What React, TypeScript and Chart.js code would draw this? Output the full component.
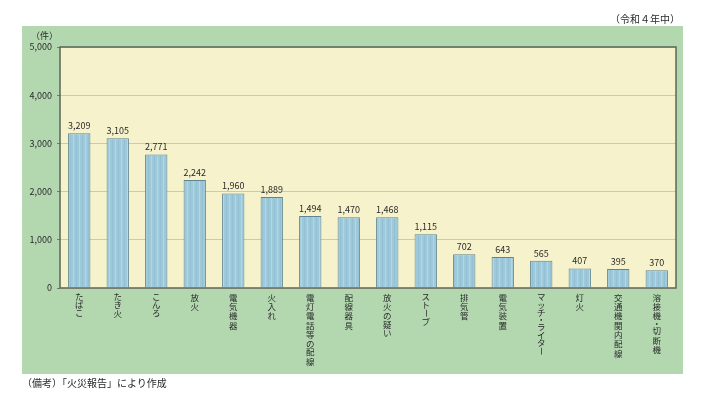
import React, { useEffect, useRef } from "react";
import { Chart, registerables } from "chart.js";

Chart.register(...registerables);

const categories = [
  "たばこ", "たき火", "こんろ", "放火", "電気機器", "火入れ", "電灯電話等の配線", "配線器具",
  "放火の疑い", "ストーブ", "排気管", "電気装置", "マッチ・ライター", "灯火", "交通機関内配線", "溶接機・切断機",
];
const fireCounts = [3209, 3105, 2771, 2242, 1960, 1889, 1494, 1470, 1468, 1115, 702, 643, 565, 407, 395, 370];
const yTicks = [0, 1000, 2000, 3000, 4000, 5000];
const unitLabel = "（件）";
const periodLabel = "（令和４年中）";
const noteLabel = "（備考）「火災報告」により作成";

const FONT = '"Noto Sans CJK JP", "Noto Sans", sans-serif';

function makePattern(ctx: CanvasRenderingContext2D) {
  const c = document.createElement("canvas");
  c.width = 6;
  c.height = 4;
  const g = c.getContext("2d")!;
  g.fillStyle = "#9ec9db";
  g.fillRect(0, 0, 6, 4);
  g.fillStyle = "#b3d6e4";
  g.fillRect(1, 0, 1, 4);
  g.fillStyle = "#93c0d3";
  g.fillRect(4, 0, 1, 4);
  return ctx.createPattern(c, "repeat");
}

const isKanji = (ch: string) => /[\u4e00-\u9fff]/.test(ch);

export default function App() {
  const ref = useRef<HTMLCanvasElement>(null);
  useEffect(() => {
    const canvas = ref.current!;
    const ctx = canvas.getContext("2d")!;
    const pattern = makePattern(ctx);

    const panelPlugin = {
      id: "panel",
      beforeDraw(chart: any) {
        const c = chart.ctx;
        const a = chart.chartArea;
        c.save();
        c.fillStyle = "#b3d8b0";
        c.fillRect(22, 26, 661, 348);
        c.fillStyle = "#f6f2cb";
        c.fillRect(a.left, a.top, a.right - a.left, a.bottom - a.top);
        c.restore();
      },
      afterDraw(chart: any) {
        const c = chart.ctx;
        const a = chart.chartArea;
        c.save();
        c.strokeStyle = "#5b6658";
        c.lineWidth = 1.5;
        c.strokeRect(a.left, a.top, a.right - a.left, a.bottom - a.top);
        // vertical category labels
        const xs = chart.scales.x;
        c.fillStyle = "#2a2a2a";
        c.font = `8.5px ${FONT}`;
        c.textAlign = "center";
        c.textBaseline = "middle";
        categories.forEach((label, i) => {
          const x = xs.getPixelForValue(i);
          let y = 293;
          for (const ch of Array.from(label)) {
            const adv = isKanji(ch) ? 9.3 : ch === "・" ? 5.5 : 8.1;
            const cy = y + adv / 2;
            if (ch === "ー") {
              c.save();
              c.translate(x, cy);
              c.rotate(Math.PI / 2);
              c.fillText(ch, 0, 0);
              c.restore();
            } else {
              c.fillText(ch, x, cy);
            }
            y += adv;
          }
        });
        c.restore();
      },
      afterDatasetsDraw(chart: any) {
        const c = chart.ctx;
        const meta = chart.getDatasetMeta(0);
        c.save();
        c.fillStyle = "#2a2a2a";
        c.font = `9px ${FONT}`;
        c.textAlign = "center";
        c.textBaseline = "bottom";
        meta.data.forEach((bar: any, i: number) => {
          c.fillText(fireCounts[i].toLocaleString("en-US"), bar.x, bar.y - 3);
        });
        c.restore();
      },
    };

    const chart = new Chart(ctx, {
      type: "bar",
      data: {
        labels: categories,
        datasets: [
          {
            data: fireCounts,
            backgroundColor: pattern as any,
            borderColor: "#5f8593",
            borderWidth: 1,
            barPercentage: 0.58,
            categoryPercentage: 1,
          },
        ],
      },
      options: {
        responsive: false,
        animation: false,
        layout: { padding: { top: 47, right: 33, left: 0, bottom: 0 } },
        plugins: { legend: { display: false }, tooltip: { enabled: false } },
        scales: {
          x: {
            grid: { display: false },
            border: { display: false },
            ticks: { display: false },
            afterFit: (s: any) => {
              s.height = 118;
            },
          },
          y: {
            min: 0,
            max: 5000,
            afterBuildTicks: (s: any) => {
              s.ticks = yTicks.map((v) => ({ value: v }));
            },
            grid: { color: "#cdc9ad", lineWidth: 1, tickLength: 3, tickColor: "#777" },
            border: { display: false },
            ticks: {
              color: "#2a2a2a",
              font: { family: FONT, size: 9 },
              padding: 5,
              callback: (v: any) => Number(v).toLocaleString("en-US"),
            },
            afterFit: (s: any) => {
              s.width = 60;
            },
          },
        },
      },
      plugins: [panelPlugin],
    });
    return () => chart.destroy();
  }, []);

  const txt: React.CSSProperties = {
    position: "absolute",
    fontFamily: FONT,
    fontSize: 9,
    color: "#2a2a2a",
    lineHeight: "12px",
    whiteSpace: "nowrap",
  };

  return (
    <div style={{ position: "absolute", left: 0, top: 0, width: 709, height: 406 }}>
      <canvas ref={ref} width={709} height={406} style={{ display: "block" }} />
      <div style={{ ...txt, right: 29, top: 13, fontSize: 10 }}>{periodLabel}</div>
      <div style={{ ...txt, left: 31, top: 30 }}>{unitLabel}</div>
      <div style={{ ...txt, left: 22, top: 377, fontSize: 10 }}>{noteLabel}</div>
    </div>
  );
}
